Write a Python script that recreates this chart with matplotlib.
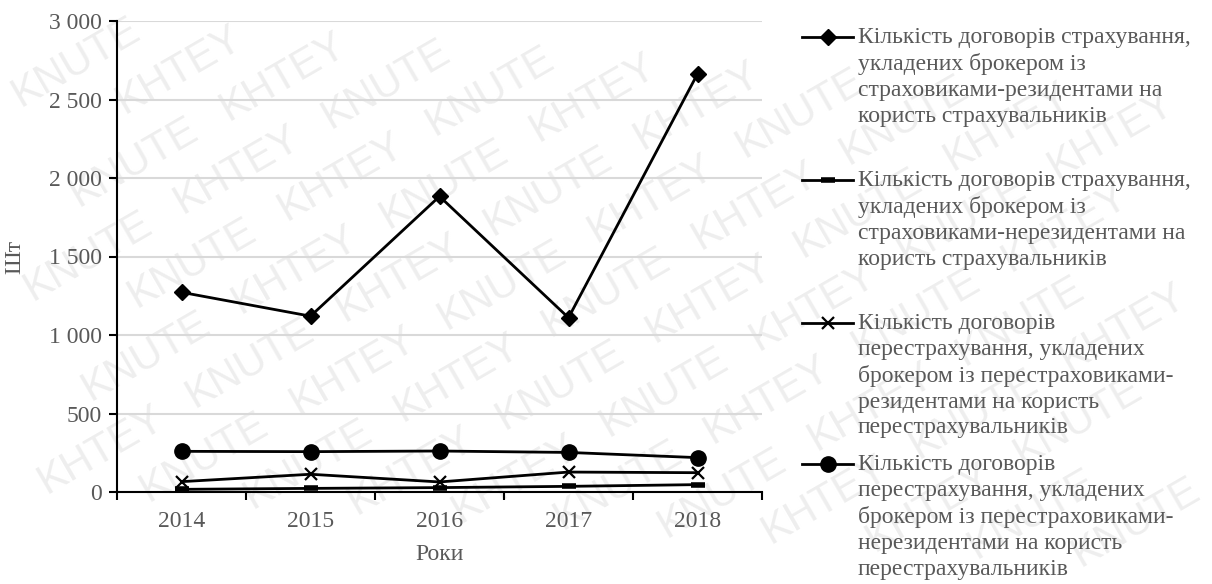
import numpy as np
import matplotlib
matplotlib.use('Agg')
import matplotlib.pyplot as plt
from matplotlib.lines import Line2D
from matplotlib.ticker import FuncFormatter, FixedLocator

years = ['2014', '2015', '2016', '2017', '2018']

# contracts, pieces
ins_res = [1272, 1120, 1883, 1110, 2663]
ins_nonres = [17, 23, 28, 36, 47]
reins_res = [66, 113, 64, 127, 123]
reins_nonres = [259, 257, 261, 252, 219]

labels = [
    'Кількість договорів страхування,\nукладених брокером із\nстраховиками-резидентами на\nкористь страхувальників',
    'Кількість договорів страхування,\nукладених брокером із\nстраховиками-нерезидентами на\nкористь страхувальників',
    'Кількість договорів\nперестрахування, укладених\nброкером із перестраховиками-\nрезидентами на користь\nперестрахувальників',
    'Кількість договорів\nперестрахування, укладених\nброкером із перестраховиками-\nнерезидентами на користь\nперестрахувальників',
]

plt.rcParams['font.family'] = ['Liberation Serif', 'DejaVu Serif']
grey = '#595959'
fs = 17
W, H = 1212, 584

fig = plt.figure(figsize=(12.12, 5.84), dpi=100)

# faint watermark, one word per text so nothing sticks out of the figure
ang = 30
th = np.deg2rad(ang)
along = np.array([np.cos(th), np.sin(th)])
perp = np.array([-np.sin(th), np.cos(th)])
L, h = 140, 32
hw = L / 2 * np.cos(th) + h / 2 * np.sin(th)
hh = L / 2 * np.sin(th) + h / 2 * np.cos(th)
words = ['KNUTE', 'KHTEY']
for k in range(-14, 15):
    for j in range(-12, 13):
        c = np.array([W / 2, H / 2]) + k * 58 * perp + (j * 172 + (k % 2) * 86) * along
        if hw < c[0] < W - hw and hh < c[1] < H - hh:
            fig.text(c[0] / W, c[1] / H, words[(j + k) % 2], rotation=ang,
                     rotation_mode='anchor', ha='center', va='center',
                     fontsize=30, color='#eeeeee', family='Liberation Sans', zorder=0)

ax = fig.add_axes([117 / W, 92 / H, 645 / W, 471 / H])
ax.set_zorder(2)
ax.patch.set_alpha(0)
x = np.arange(len(years))

styles = [
    dict(marker='D', ms=8),
    dict(marker='_', ms=10, mew=4),
    dict(marker='x', ms=9, mew=1.6),
    dict(marker='o', ms=11),
]
series = [ins_res, ins_nonres, reins_res, reins_nonres]
handles = []
for s, st in zip(series, styles):
    ln, = ax.plot(x, s, color='black', lw=2, zorder=3, **st)
    handles.append(ln)

ax.set_xlim(-0.5, len(years) - 0.5)
ax.set_ylim(0, 3000)
ax.set_yticks(np.arange(0, 3001, 500))
ax.yaxis.set_major_formatter(FuncFormatter(lambda v, p: f'{v:,.0f}'.replace(',', ' ')))
ax.set_xticks(x)
ax.set_xticklabels(years)
ax.xaxis.set_minor_locator(FixedLocator(np.arange(-0.5, len(years), 1)))
ax.tick_params(axis='x', which='major', length=0, pad=14, labelsize=fs, labelcolor=grey)
ax.tick_params(axis='x', which='minor', length=6, width=1.5, direction='out')
ax.tick_params(axis='y', length=6, width=1.5, direction='out', pad=5, labelsize=fs, labelcolor=grey)
ax.grid(axis='y', color='#d9d9d9', lw=1.5, zorder=1)
for sp in ['top', 'right']:
    ax.spines[sp].set_visible(False)
for sp in ['left', 'bottom']:
    ax.spines[sp].set_linewidth(1.5)

ax.set_xlabel('Роки', fontsize=fs, color=grey, labelpad=8)
ax.set_ylabel('Шт', fontsize=fs, color=grey, labelpad=17)

# legend drawn by hand to keep Excel-like spacing
entry_y = [37, 180, 323, 464]
for hd, lab, yy in zip(handles, labels, entry_y):
    yf = 1 - yy / H
    fig.add_artist(Line2D([802 / W, 853 / W], [yf, yf], transform=fig.transFigure,
                          color='black', lw=2))
    fig.add_artist(Line2D([828 / W], [yf], transform=fig.transFigure, color='black',
                          marker=hd.get_marker(), ms=hd.get_markersize(),
                          mew=hd.get_markeredgewidth()))
    fig.text(858 / W, 1 - (yy - 10) / H, lab, ha='left', va='top', fontsize=fs,
             color=grey, linespacing=1.3, zorder=3)

fig.savefig('out.png', dpi=100)
